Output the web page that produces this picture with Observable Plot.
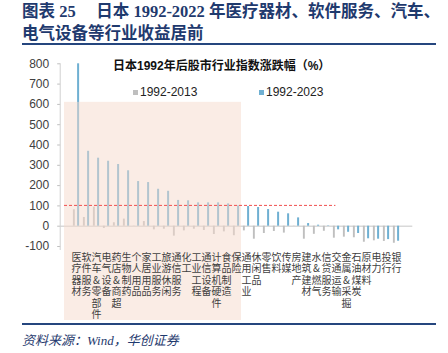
<!DOCTYPE html>
<html><head><meta charset="utf-8">
<script src="https://cdn.jsdelivr.net/npm/d3@7"></script>
<script src="https://cdn.jsdelivr.net/npm/@observablehq/plot@0.6"></script>
<style>
body{margin:0;background:#fff;}
#wrap{position:relative;width:448px;height:353px;overflow:hidden;font-family:"Liberation Sans",Arial,sans-serif;}
.title{position:absolute;left:22px;top:1px;color:#1F3A6E;font-family:"Liberation Serif","Noto Sans CJK SC",serif;font-weight:bold;font-size:16.5px;line-height:22px;white-space:nowrap;}
.rule{position:absolute;left:22px;width:414px;height:2px;background:#25467E;}
.src{position:absolute;left:22px;top:330px;color:#1F3A6E;font-family:"Liberation Serif","Noto Sans CJK SC",serif;font-style:italic;font-size:13px;white-space:nowrap;}
.inner{position:absolute;left:113px;top:56px;font-family:"Liberation Sans","Noto Sans CJK SC",sans-serif;font-weight:bold;font-size:12px;color:#111;white-space:nowrap;}
.leg{position:absolute;top:84px;font-size:12px;color:#222;white-space:nowrap;line-height:16px;}
.leg i{display:inline-block;width:5px;height:5px;margin-right:2px;vertical-align:1px;}
#chart{position:absolute;left:0;top:48px;}
</style></head>
<body>
<div id="wrap">
  <div class="title">图表 25&nbsp;&nbsp;&nbsp;&nbsp;&nbsp;日本 1992-2022 年医疗器材、软件服务、汽车、<br>电气设备等行业收益居前</div>
  <div class="rule" style="top:43px"></div>
  <div id="chart"></div>
  <div class="inner">日本1992年后股市行业指数涨跌幅（%）</div>
  <div class="leg" style="left:133px"><i style="background:#BFBFBF"></i>1992-2013</div>
  <div class="leg" style="left:259px"><i style="background:#6FB0D2"></i>1992-2023</div>
  <div class="rule" style="top:323px"></div>
  <div class="src">资料来源：Wind，华创证券</div>
</div>
<script>
const categories = ["医疗器材","软件服务","汽车&零部件","电气设备","药店&商超","生物制药","个人用品","家居用品","工业服务","旅游休闲","通信服务","化工","工业工程","通信设备","计算机硬件","食品制造","保险","通用工业","休闲品","零售","饮料","传媒","房地产","建筑建材","水&燃气","信贷服务","交通运输","金属&采掘","石油煤炭","原材料","电力","投行","银行"];
const series2013 = [81,43,94,-11,17,35,-1,23,-18,-15,-49,-23,-15,-21,-41,-28,-47,-23,-64,-36,-26,-34,-1,-64,-40,-25,-59,-54,-57,-79,-72,-75,-84];
const series2023 = [800,369,335,320,304,273,220,215,182,172,127,125,115,115,115,110,100,97,92,82,69,61,41,13,5,2,-18,-30,-36,-62,-64,-66,-74];
const yTicks = [-100,0,100,200,300,400,500,600,700,800];
const highlightFrom = "医疗器材", highlightTo = "保险", highlightTop = 610;
const refValue = 100, refEnd = "交通运输";

const d2013 = categories.map((c,i)=>({cat:c, v:series2013[i]}));
const d2023 = categories.map((c,i)=>({cat:c, v:series2023[i]}));

const H = 278;
const plot = Plot.plot({
  width: 448, height: H,
  marginLeft: 60.2, marginRight: 35.7, marginTop: 15.3, marginBottom: H - 198,
  style: {fontFamily: "'Liberation Sans', Arial, sans-serif", fontSize: "12px", color: "#404040", background: "transparent"},
  x: {domain: categories, padding: 0, axis: null},
  y: {domain: [-100, 800], axis: null},
  marks: [
    Plot.ruleY([0], {stroke: "#D9D9D9", strokeWidth: 1.5}),
    Plot.barY(d2013, {x: "cat", y: "v", fill: "#BFBFBF", insetLeft: 1.9, insetRight: 6.2}),
    Plot.barY(d2023, {x: "cat", y: "v", fill: "#6FB0D2", insetLeft: 6.1, insetRight: 1.9}),
    Plot.axisX({label: null, tickSize: 0, tickPadding: 6, tickFormat: d => d.split("").join("\n"), lineHeight: 1.15, fontSize: 10, fontFamily: "'Noto Sans CJK SC', sans-serif", fill: "#404040"}),
    Plot.axisY({label: null, ticks: yTicks, tickSize: 3, tickPadding: 8.5, tickFormat: d => String(d), stroke: "#BFBFBF", fill: "#404040"})
  ]
});
document.getElementById("chart").appendChild(plot);

const xs = plot.scale("x"), ys = plot.scale("y");
const bw = xs.bandwidth;
const ns = "http://www.w3.org/2000/svg";
const x0 = xs.apply(highlightFrom) - 7;
const x1 = xs.apply(highlightTo) + bw;
const axisNode = plot.querySelector('[aria-label^="x-axis"]');
const rect = document.createElementNS(ns, "rect");
rect.setAttribute("x", x0); rect.setAttribute("y", ys.apply(highlightTop));
rect.setAttribute("width", x1 - x0); rect.setAttribute("height", 272 - ys.apply(highlightTop));
rect.setAttribute("fill", "rgb(245,218,204)"); rect.setAttribute("fill-opacity", 0.5);
if (axisNode) plot.insertBefore(rect, axisNode); else plot.appendChild(rect);
const svg = d3.select(plot);
svg.append("line")
  .attr("x1", x0).attr("x2", xs.apply(refEnd) + 4.4)
  .attr("y1", ys.apply(refValue)).attr("y2", ys.apply(refValue))
  .attr("stroke", "#F04F4F").attr("stroke-width", 1).attr("stroke-dasharray", "3,2");
svg.append("line")
  .attr("x1", xs.range[0]).attr("x2", xs.range[0])
  .attr("y1", ys.apply(800)).attr("y2", ys.apply(-100) + 4)
  .attr("stroke", "#D0D0D0").attr("stroke-width", 1);
</script>
</body></html>
